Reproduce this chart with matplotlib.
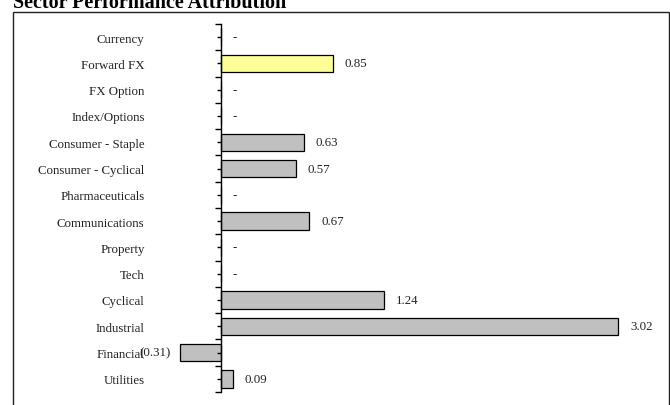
import matplotlib
matplotlib.use("Agg")
import matplotlib.pyplot as plt
from matplotlib.patches import Rectangle

# ---- data ----
sectors = ["Currency", "Forward FX", "FX Option", "Index/Options",
           "Consumer - Staple", "Consumer - Cyclical", "Pharmaceuticals",
           "Communications", "Property", "Tech", "Cyclical", "Industrial",
           "Financial", "Utilities"]
values = [0.0, 0.85, 0.0, 0.0, 0.63, 0.57, 0.0, 0.67, 0.0, 0.0, 1.24, 3.02, -0.31, 0.09]
highlight = ["Forward FX"]

plt.rcParams['font.family'] = ['Liberation Serif', 'DejaVu Serif']

W, H = 670, 406
fig = plt.figure(figsize=(W / 100, H / 100), dpi=100)

# axes placement in pixels: zero line at x=221, 131.5 px per unit
ax_l, ax_r = 170, 660
ax_top, ax_bot = 25, 393
ppu = 131.5
ax = fig.add_axes([ax_l / W, (H - ax_bot) / H, (ax_r - ax_l) / W, (ax_bot - ax_top) / H])

ypos = list(range(len(sectors)))
colors = ["#FFFF99" if s in highlight else "#C0C0C0" for s in sectors]
ax.barh(ypos, values, height=0.66, color=colors, edgecolor="black", linewidth=0.9)

ax.set_xlim(-(221 - ax_l) / ppu, (ax_r - 221) / ppu)
ax.set_ylim(len(sectors) - 0.5, -0.5)

for sp in ["top", "right", "bottom"]:
    ax.spines[sp].set_visible(False)
ax.spines["left"].set_position(("data", 0))
ax.spines["left"].set_linewidth(1.0)
ax.set_xticks([])

# boundaries as major ticks, centres as minor ticks carrying the labels
ax.set_yticks([i - 0.5 for i in range(len(sectors) + 1)])
ax.set_yticklabels([])
ax.set_yticks(ypos, minor=True)
ax.set_yticklabels(sectors, minor=True, fontsize=9.3, color="#222222")
ax.tick_params(axis="y", which="major", length=4, width=1.0, direction="out")
ax.tick_params(axis="y", which="minor", length=3, width=1.0, direction="out", pad=52)

for y, v in zip(ypos, values):
    if v == 0:
        txt, off, ha = "-", 8.6, "left"
    elif v < 0:
        txt, off, ha = f"({abs(v):.2f})", -6.5, "right"
    else:
        txt, off, ha = f"{v:.2f}", 8.6, "left"
    ax.annotate(txt, xy=(v, y), xytext=(off, 0), textcoords="offset points",
                ha=ha, va="center", fontsize=9.3, color="#222222")

# outer frame
fig.patches.append(Rectangle((13 / W, -0.05), (669 - 13) / W, (H - 13) / H + 0.05,
                             transform=fig.transFigure, fill=False,
                             edgecolor="#222222", linewidth=1.0))

fig.text(13 / W, 1 - 8 / H, "Sector Performance Attribution", fontsize=14.5,
         fontweight="bold", ha="left", va="baseline")

fig.savefig("out.png", dpi=100)
